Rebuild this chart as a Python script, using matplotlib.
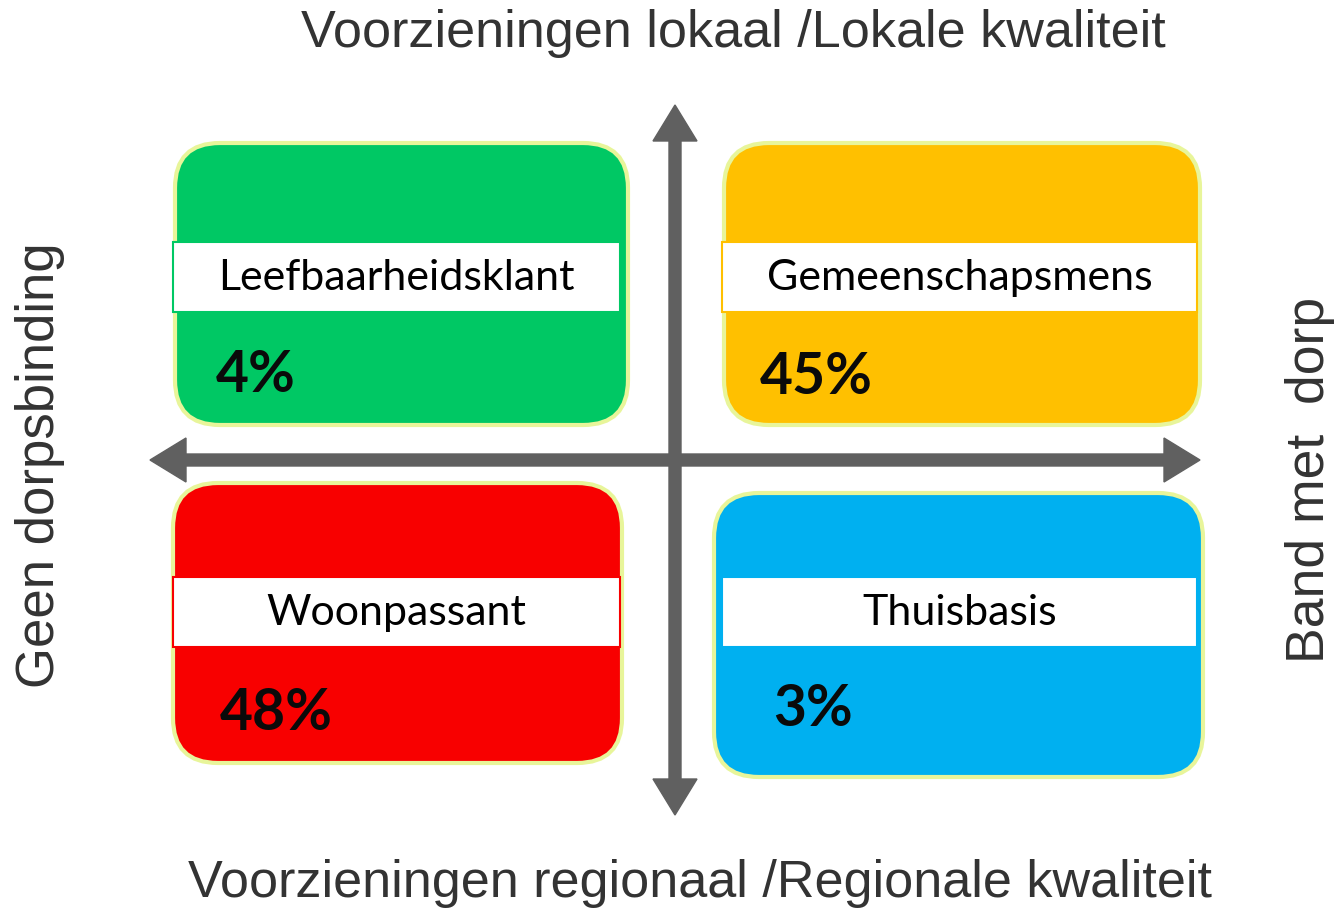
import matplotlib.pyplot as plt
from matplotlib.patches import FancyBboxPatch, Rectangle

# Kwadranten
namen = ['Leefbaarheidsklant', 'Gemeenschapsmens', 'Woonpassant', 'Thuisbasis']
percentages = ['4%', '45%', '48%', '3%']
kleuren = ['#00c864', '#ffc000', '#f80000', '#00b0f0']

# Aslabels
titel_boven = 'Voorzieningen lokaal /Lokale kwaliteit'
titel_onder = 'Voorzieningen regionaal /Regionale kwaliteit'
titel_links = 'Geen dorpsbinding'
titel_rechts = 'Band met  dorp'

# layout in pixels (x0, y0, x1, y1) per kwadrant
boxen = [(175, 143, 628, 425), (724, 143, 1200, 425),
         (173, 483, 622, 763), (714, 493, 1203, 777)]
banden = [(173, 242, 620, 312), (722, 242, 1197, 312),
          (173, 577, 620, 647), (722, 577, 1197, 647)]
pct_pos = [(216, 375), (760, 377), (220, 713), (773, 710)]

fig = plt.figure(figsize=(13.4, 9.18), dpi=100)
ax = fig.add_axes([0, 0, 1, 1])
ax.set_xlim(0, 1340)
ax.set_ylim(918, 0)
ax.axis('off')

for i in range(4):
    x0, y0, x1, y1 = boxen[i]
    ax.add_patch(FancyBboxPatch((x0, y0), x1 - x0, y1 - y0,
                                boxstyle='round,pad=0,rounding_size=45',
                                facecolor=kleuren[i], edgecolor='#e8f59a',
                                linewidth=3, zorder=2))
    bx0, by0, bx1, by1 = banden[i]
    ax.add_patch(Rectangle((bx0, by0), bx1 - bx0, by1 - by0,
                           facecolor='white', edgecolor=kleuren[i],
                           linewidth=1.5, zorder=3))
    ax.text((bx0 + bx1) / 2, (by0 + by1) / 2 + 1, namen[i], fontsize=31,
            family='Lato', ha='center', va='center', color='black', zorder=4)
    ax.text(pct_pos[i][0], pct_pos[i][1], percentages[i], fontsize=41,
            family='Lato', fontweight='bold', ha='left', va='center',
            color='#0a0a0a', zorder=4)

# assen met pijlen
grijs = '#606060'
cx, cy = 675, 460
for dx, dy in [(0, 105 - cy), (0, 815 - cy), (150 - cx, 0), (1200 - cx, 0)]:
    ax.arrow(cx, cy, dx, dy, width=12, head_width=44, head_length=36,
             length_includes_head=True, color=grijs, zorder=1)

ax.text(733, 33, titel_boven, fontsize=37.5, family='Liberation Sans',
        ha='center', va='center', color='#333333')
ax.text(700, 884, titel_onder, fontsize=37.5, family='Liberation Sans',
        ha='center', va='center', color='#333333')
ax.text(40, 465, titel_links, fontsize=38, family='Liberation Sans',
        rotation=90, ha='center', va='center', color='#333333')
ax.text(1310, 480, titel_rechts, fontsize=38.5, family='Liberation Sans',
        rotation=90, ha='center', va='center', color='#333333')

plt.savefig('out.png', dpi=100)
